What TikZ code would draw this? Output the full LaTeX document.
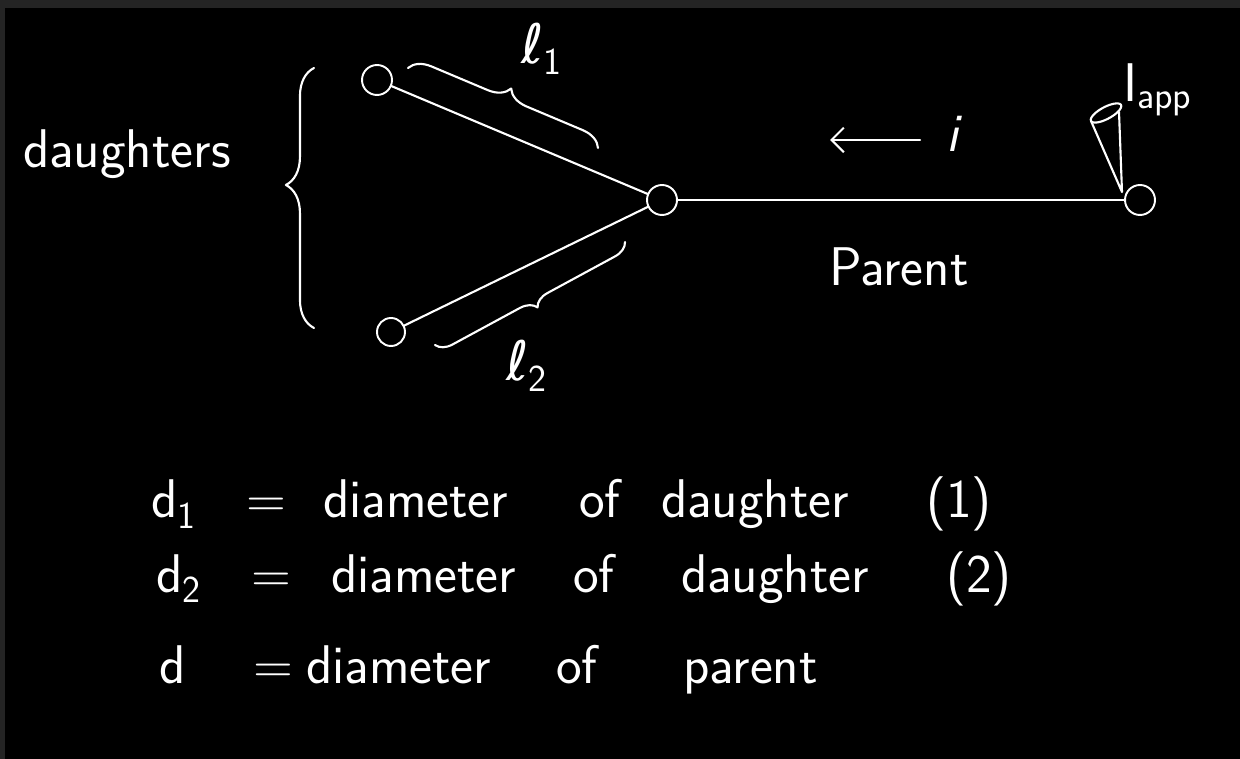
\documentclass[tikz,border=0pt]{standalone}
\usepackage{fontspec}
\newfontfamily\symfont{DejaVu Sans}
\usetikzlibrary{decorations.pathreplacing,arrows.meta}
\definecolor{frame}{RGB}{36,36,36}

\begin{document}
\begin{tikzpicture}[x=0.02cm, y=-0.02cm, line width=1.2pt,
  hand/.style={text=white, inner sep=0pt, anchor=base west,
    font=\sffamily\fontsize{31}{36}\selectfont},
  soma/.style={circle, draw=white, line width=1.1pt, minimum size=#1, inner sep=0pt},
  chalk/.style={draw=white, line cap=round, line join=round},
  curly/.style={chalk, decorate, decoration={brace, amplitude=#1}}]
  % board
  \fill[frame] (0,0) rectangle (1240,759);
  \fill[black] (5,8) rectangle (1240,759);
  \useasboundingbox (0,0) rectangle (1240,759);

  % tree
  \node[soma=0.6cm]  (dtop) at (377,80)  {};
  \node[soma=0.56cm] (dbot) at (391,332) {};
  \node[soma=0.6cm]  (junc) at (662,200) {};
  \node[soma=0.6cm]  (tip)  at (1140,200) {};
  \draw[chalk] (dtop) -- (junc);
  \draw[chalk] (dbot) -- (junc);
  \draw[chalk] (junc) -- (tip);

  % daughters
  \node[hand] (dlab) at (22,168) {daughters};
  \draw[curly=16pt, decoration={aspect=0.55}] (314,328) -- (314,68);

  % lengths
  \draw[curly=12pt] (408,68) -- (598,148);
  \node[hand] (len1) at (520,64) {{\symfont ℓ}\textsubscript{1}};
  \draw[curly=9pt] (625,242) -- (435,345);
  \node[hand] (len2) at (505,381) {{\symfont ℓ}\textsubscript{2}};

  % current
  \coordinate (cur0) at (920,140);
  \coordinate (cur1) at (830,140);
  \draw[chalk, -{Straight Barb[length=7pt, width=14pt]}] (cur0) -- (cur1);
  \node[hand] (curi) at (945,152) {\textit{i}};
  \node[hand] (plab) at (828,286) {Parent};

  % electrode
  \coordinate (elL) at (1091,121);
  \coordinate (elR) at (1119,112);
  \coordinate (pin) at (1122,192);
  \draw[chalk] plot[domain=0:360, samples=40, smooth cycle, variable=\t]
    ({1106+15*cos(\t)+2.8*sin(\t)}, {113-8*cos(\t)+5.3*sin(\t)});
  \draw[chalk] (elL) -- (pin) -- (elR);
  \node[hand] (iapp) at (1122,102) {I\textsubscript{app}};

  % definitions
  \node[hand] (n1a) at (150,518) {d\textsubscript{1}};
  \node[hand] (n1b) at (245,518) {=};
  \node[hand] (n1c) at (322,518) {diameter};
  \node[hand] (n1d) at (578,518) {of};
  \node[hand] (n1e) at (660,518) {daughter};
  \node[hand] (n1f) at (925,518) {(1)};

  \node[hand] (n2a) at (155,592) {d\textsubscript{2}};
  \node[hand] (n2b) at (250,592) {=};
  \node[hand] (n2c) at (330,592) {diameter};
  \node[hand] (n2d) at (572,592) {of};
  \node[hand] (n2e) at (680,592) {daughter};
  \node[hand] (n2f) at (945,592) {(2)};

  \node[hand] (n3a) at (158,683) {d};
  \node[hand] (n3b) at (252,683) {=};
  \node[hand] (n3c) at (305,683) {diameter};
  \node[hand] (n3d) at (555,683) {of};
  \node[hand] (n3e) at (682,683) {parent};
\end{tikzpicture}
\end{document}
